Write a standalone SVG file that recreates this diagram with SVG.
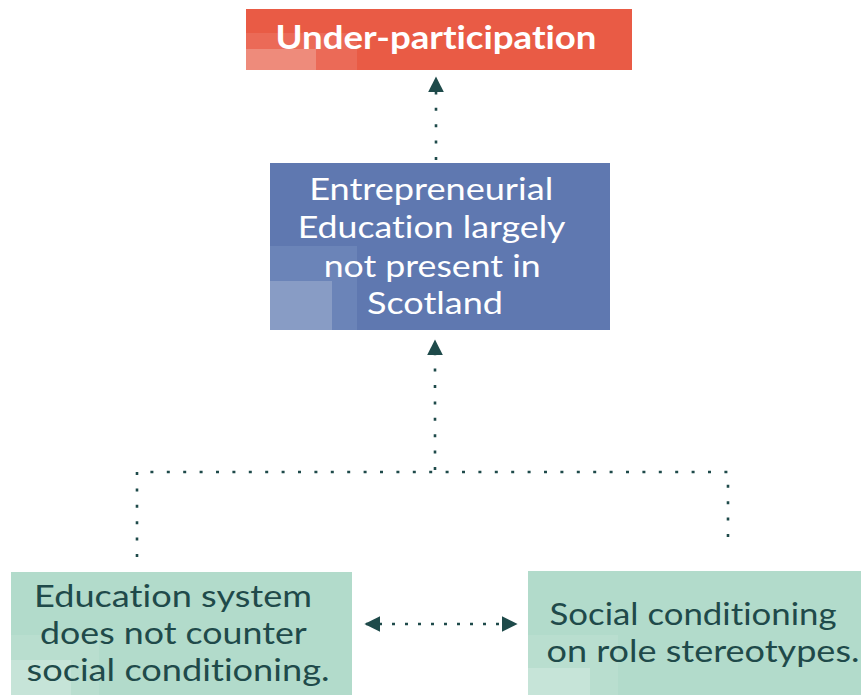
<svg xmlns="http://www.w3.org/2000/svg" width="861" height="695" viewBox="0 0 861 695">
<defs>
<style>
.con{fill:none;stroke:#1E4A4A;stroke-width:2.6;stroke-dasharray:3 13.4}
.wt{font-family:Lato,"Open Sans",sans-serif;fill:#FFFFFF;text-anchor:middle;font-variant-ligatures:none}
.gt{font-family:Lato,"Open Sans",sans-serif;fill:#1F4A4A;text-anchor:middle;font-size:31px;font-variant-ligatures:none}
</style>
<marker id="ah" viewBox="0 0 10 10" refX="9" refY="5" markerWidth="16" markerHeight="16" markerUnits="userSpaceOnUse" orient="auto-start-reverse">
<path d="M0,0 L10,5 L0,10 Z" fill="#1E4A4A"/>
</marker>
</defs>
<rect width="861" height="695" fill="#FFFFFF"/>
<g id="connectors">
<line class="con" x1="436" y1="160" x2="436" y2="78" marker-end="url(#ah)"/>
<line class="con" x1="435" y1="470" x2="435" y2="341" marker-end="url(#ah)"/>
<polyline class="con" points="137,557 137,472 728,472 728,545"/>
<line class="con" x1="366" y1="624" x2="516" y2="624" marker-start="url(#ah)" marker-end="url(#ah)" style="stroke-dasharray:3 10"/>
</g>
<g id="node-under-participation">
<rect x="246" y="9" width="386" height="61" fill="#E95B45"/>
<rect x="246" y="33" width="111" height="37" fill="#EB6A57"/>
<rect x="246" y="49" width="70" height="21" fill="#EE8B7B"/>
<text class="wt" x="436" y="49" font-size="32" font-weight="bold" textLength="321" lengthAdjust="spacingAndGlyphs">Under-participation</text>
</g>
<g id="node-entrepreneurial">
<rect x="270" y="163" width="340" height="167" fill="#5F78B0"/>
<rect x="270" y="246" width="87" height="84" fill="#6B84B8"/>
<rect x="270" y="281" width="62" height="49" fill="#889CC5"/>
<text class="wt" font-size="30">
<tspan x="435" y="200" textLength="244" lengthAdjust="spacingAndGlyphs">Entrepreneurial</tspan>
<tspan x="435" y="238" textLength="267" lengthAdjust="spacingAndGlyphs">Education largely</tspan>
<tspan x="436" y="277" textLength="217" lengthAdjust="spacingAndGlyphs">not present in</tspan>
<tspan x="435" y="314" textLength="136" lengthAdjust="spacingAndGlyphs">Scotland</tspan>
</text>
</g>
<g id="node-education-system">
<rect x="11" y="572" width="341" height="123" fill="#B2DBCB"/>
<rect x="11" y="635" width="88" height="60" fill="#B9DECF"/>
<rect x="11" y="660" width="60" height="35" fill="#C6E4D8"/>
<text class="gt">
<tspan x="177" y="607" textLength="278" lengthAdjust="spacingAndGlyphs">Education system</tspan>
<tspan x="177" y="644" textLength="266" lengthAdjust="spacingAndGlyphs">does not counter</tspan>
<tspan x="178" y="681" textLength="303" lengthAdjust="spacingAndGlyphs">social conditioning.</tspan>
</text>
</g>
<g id="node-social-conditioning">
<rect x="528" y="571" width="333" height="124" fill="#B2DBCB"/>
<rect x="528" y="635" width="90" height="60" fill="#B9DECF"/>
<rect x="528" y="668" width="62" height="27" fill="#C6E4D8"/>
<text class="gt">
<tspan x="697" y="625" textLength="287" lengthAdjust="spacingAndGlyphs">Social conditioning</tspan>
<tspan x="703" y="662" textLength="313" lengthAdjust="spacingAndGlyphs">on role stereotypes.</tspan>
</text>
</g>
</svg>
